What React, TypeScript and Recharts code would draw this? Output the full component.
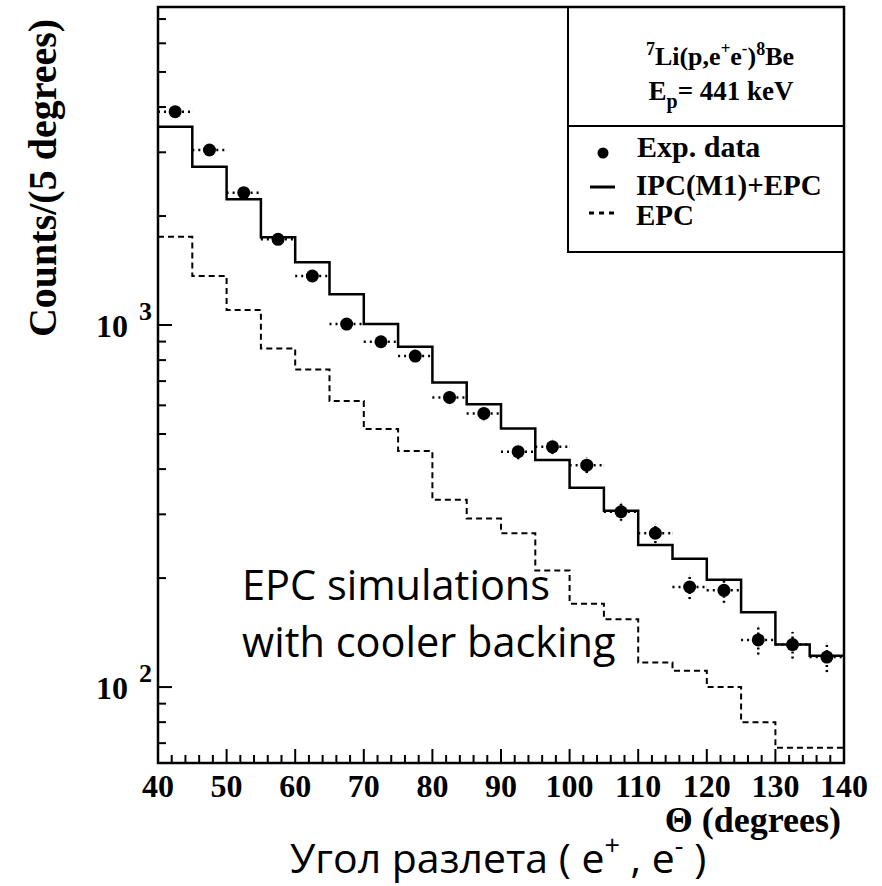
import React from 'react';
import { ComposedChart, Line, Scatter, XAxis, YAxis, ErrorBar, ReferenceArea } from 'recharts';

// ---- data ----
const binEdges = [40, 45, 50, 55, 60, 65, 70, 75, 80, 85, 90, 95, 100, 105, 110, 115, 120, 125, 130, 135, 140];
const thetaCenters = [42.5, 47.5, 52.5, 57.5, 62.5, 67.5, 72.5, 77.5, 82.5, 87.5, 92.5, 97.5, 102.5, 107.5, 112.5, 117.5, 122.5, 127.5, 132.5, 137.5];
const expCounts = [3884, 3044, 2320, 1725, 1366, 1006, 899, 821, 631, 570, 447, 461, 410, 305, 266, 189, 185, 135, 131, 121];
const expErrors = [62, 55, 48, 42, 37, 32, 30, 29, 25, 24, 21, 21, 20, 17, 16, 14, 14, 12, 11, 11];
const thetaHalfWidth = 2.5;
const ipcEpcHist = [3530, 2737, 2224, 1747, 1490, 1216, 1006, 871, 694, 604, 518, 424, 355, 307, 247, 226, 198, 161, 131, 122];
const epcHist = [1754, 1366, 1100, 862, 754, 617, 516, 449, 329, 292, 266, 210, 170, 154, 117, 111, 100, 80, 68, 68];

const xTicks = [40, 42, 44, 46, 48, 50, 52, 54, 56, 58, 60, 62, 64, 66, 68, 70, 72, 74, 76, 78, 80, 82, 84, 86, 88, 90, 92, 94, 96, 98, 100, 102, 104, 106, 108, 110, 112, 114, 116, 118, 120, 122, 124, 126, 128, 130, 132, 134, 136, 138, 140];
const xMajor = [40, 50, 60, 70, 80, 90, 100, 110, 120, 130, 140];
const yTicks = [70, 80, 90, 100, 200, 300, 400, 500, 600, 700, 800, 900, 1000, 2000, 3000, 4000, 5000, 6000, 7000];
const yMajor: Record<number, string> = { 100: '2', 1000: '3' };
const xDomain = [40, 140];
const yDomain = [61.7, 7558];

const legendTitle = 'Li(p,e';
const legendItems = ['Exp. data', 'IPC(M1)+EPC', 'EPC'];
const yTitle = 'Counts/(5 degrees)';
const xTitle = 'Θ (degrees)';
const ruTitle = 'Угол разлета ( e';
const noteLines = ['EPC simulations', 'with cooler backing'];

const toSteps = (hist: number[]) =>
  binEdges.map((x, i) => ({ x, y: hist[Math.min(i, hist.length - 1)] }));

const totalSteps = toSteps(ipcEpcHist);
const epcSteps = toSteps(epcHist);
const expData = thetaCenters.map((x, i) => ({ x, y: expCounts[i], ey: expErrors[i], ex: thetaHalfWidth }));

const SERIF = '"Liberation Serif", "Times New Roman", serif';
const SANS = '"Open Sans", "Noto Sans", sans-serif';

const XTick = (props: any) => {
  const { x, y, payload } = props;
  const v = payload.value;
  const major = xMajor.includes(v);
  return (
    <g>
      <line x1={x} x2={x} y1={y} y2={y - (major ? 14 : 8)} stroke="#000" strokeWidth={2} />
      {major && (
        <text x={x} y={y + 34} textAnchor="middle" fontFamily={SERIF} fontWeight="bold" fontSize={32} fill="#000">
          {v}
        </text>
      )}
    </g>
  );
};

const YTick = (props: any) => {
  const { x, y, payload } = props;
  const v = payload.value;
  const exp = yMajor[v];
  return (
    <g>
      <line x1={x} x2={x + (exp ? 14 : 8)} y1={y} y2={y} stroke="#000" strokeWidth={2} />
      {exp && (
        <>
          <text x={x - 30} y={y + 12} textAnchor="end" fontFamily={SERIF} fontWeight="bold" fontSize={32} fill="#000">
            10
          </text>
          <text x={x - 19} y={y - 5} textAnchor="start" fontFamily={SERIF} fontWeight="bold" fontSize={26} fill="#000">
            {exp}
          </text>
        </>
      )}
    </g>
  );
};

const Dot = (p: any) => <circle cx={p.cx} cy={p.cy} r={6.5} fill="#000" />;

const Overlay = () => (
  <svg width={882} height={886} style={{ position: 'absolute', left: 0, top: 0, pointerEvents: 'none' }}>
    {/* legend box */}
    <rect x={568} y={7} width={276} height={245} fill="none" stroke="#000" strokeWidth={2} />
    <line x1={568} x2={844} y1={126} y2={126} stroke="#000" strokeWidth={2} />
    <text x={720} y={65} textAnchor="middle" fontFamily={SERIF} fontWeight="bold" fontSize={26} fill="#000">
      <tspan fontSize={18} dy={-10}>7</tspan>
      <tspan dy={10}>{legendTitle}</tspan>
      <tspan fontSize={17} dy={-11}>+</tspan>
      <tspan dy={11}>e</tspan>
      <tspan fontSize={17} dy={-11}>-</tspan>
      <tspan dy={11}>)</tspan>
      <tspan fontSize={18} dy={-10}>8</tspan>
      <tspan dy={10}>Be</tspan>
    </text>
    <text x={721} y={100} textAnchor="middle" fontFamily={SERIF} fontWeight="bold" fontSize={27} fill="#000">
      <tspan>E</tspan>
      <tspan fontSize={20} dy={8}>p</tspan>
      <tspan dy={-8}>= 441 keV</tspan>
    </text>
    <circle cx={603} cy={153} r={5.5} fill="#000" />
    <line x1={590} x2={615} y1={187} y2={187} stroke="#000" strokeWidth={3} />
    <line x1={589} x2={615} y1={213} y2={213} stroke="#000" strokeWidth={3} strokeDasharray="5 5" />
    <text x={637} y={157} fontFamily={SERIF} fontWeight="bold" fontSize={30} fill="#000">{legendItems[0]}</text>
    <text x={636} y={195} fontFamily={SERIF} fontWeight="bold" fontSize={29} fill="#000">{legendItems[1]}</text>
    <text x={636} y={225} fontFamily={SERIF} fontWeight="bold" fontSize={29} fill="#000">{legendItems[2]}</text>

    {/* annotation */}
    <text x={242} y={600} fontFamily={SANS} fontSize={41.5} fill="#000">{noteLines[0]}</text>
    <text x={242} y={657} fontFamily={SANS} fontSize={41.5} fill="#000">{noteLines[1]}</text>

    {/* axis titles */}
    <text x={56} y={178} transform="rotate(-90 56 178)" textAnchor="middle" fontFamily={SERIF} fontWeight="bold" fontSize={40} fill="#000">
      {yTitle}
    </text>
    <text x={841} y={832} textAnchor="end" fontFamily={SERIF} fontWeight="bold" fontSize={36} fill="#000">
      {xTitle}
    </text>
    <text x={290} y={873} fontFamily={SANS} fontSize={41} fill="#000">
      <tspan>{ruTitle}</tspan>
      <tspan fontSize={27} dy={-18}>+</tspan>
      <tspan dy={18}> , e</tspan>
      <tspan fontSize={27} dy={-18}>-</tspan>
      <tspan dy={18}> )</tspan>
    </text>
  </svg>
);

export default function App() {
  return (
    <div style={{ position: 'absolute', left: 0, top: 0, width: 882, height: 886, background: '#fff' }}>
      <ComposedChart width={882} height={886} margin={{ top: 7, right: 38, bottom: 122, left: 157 }}>
        <XAxis
          dataKey="x"
          type="number"
          domain={xDomain}
          allowDataOverflow
          ticks={xTicks}
          interval={0}
          height={1}
          tickSize={0}
          tickMargin={0}
          tickLine={false}
          axisLine={false}
          tick={<XTick />}
        />
        <YAxis
          dataKey="y"
          type="number"
          scale="log"
          domain={yDomain}
          allowDataOverflow
          ticks={yTicks}
          interval={0}
          width={1}
          tickSize={0}
          tickMargin={0}
          tickLine={false}
          axisLine={false}
          tick={<YTick />}
        />
        <ReferenceArea x1={xDomain[0]} x2={xDomain[1]} y1={yDomain[0]} y2={yDomain[1]} fill="none" stroke="#000" strokeWidth={2.5} ifOverflow="visible" />
        <Line data={epcSteps} dataKey="y" type="stepAfter" stroke="#000" strokeWidth={2} strokeDasharray="6 4" dot={false} isAnimationActive={false} />
        <Line data={totalSteps} dataKey="y" type="stepAfter" stroke="#000" strokeWidth={2.5} dot={false} isAnimationActive={false} />
        <Scatter data={expData} dataKey="y" fill="#000" shape={<Dot />} isAnimationActive={false}>
          <ErrorBar dataKey="ex" direction="x" width={0} stroke="#000" strokeWidth={2.5} strokeDasharray="2 4" />
          <ErrorBar dataKey="ey" direction="y" width={0} stroke="#000" strokeWidth={2.5} strokeDasharray="2 3" />
        </Scatter>
      </ComposedChart>
      <Overlay />
    </div>
  );
}
